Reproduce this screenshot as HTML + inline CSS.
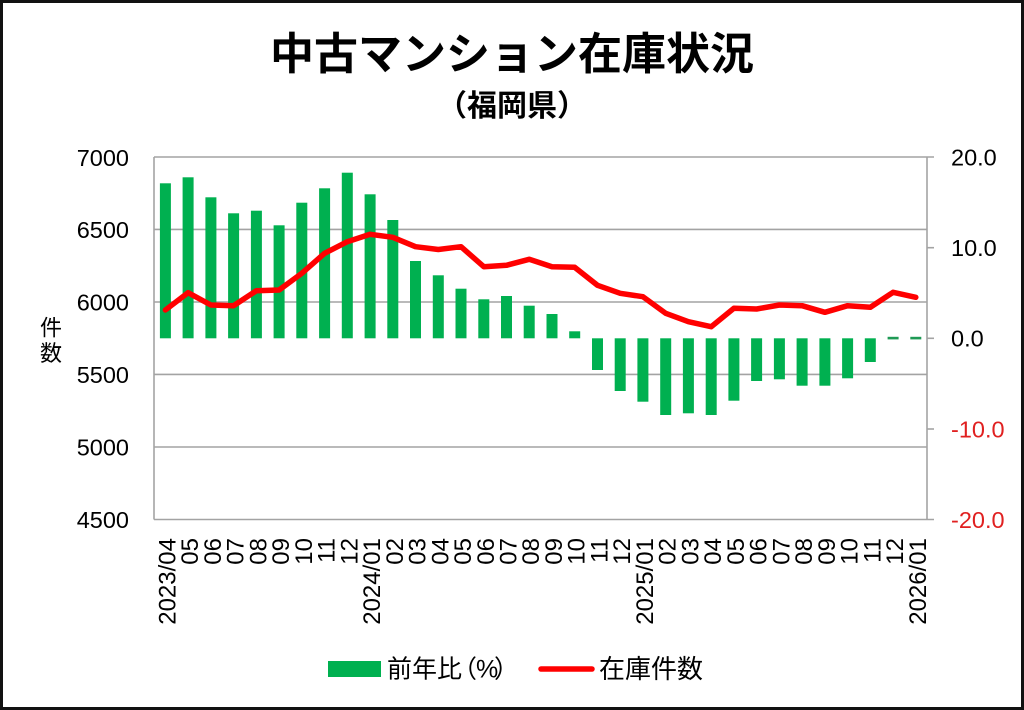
<!DOCTYPE html>
<html><head><meta charset="utf-8">
<style>
html,body{margin:0;padding:0;background:#fff;}
svg{display:block;}
text{font-family:"Liberation Sans","Noto Sans CJK JP",sans-serif;}
</style></head>
<body>
<svg width="1024" height="710" viewBox="0 0 1024 710" xmlns="http://www.w3.org/2000/svg">
<rect x="1.5" y="1.5" width="1021" height="707" fill="#fff" stroke="#111" stroke-width="3"/>
<!-- title -->
<text x="512" y="69" font-size="44" font-weight="700" text-anchor="middle" fill="#000" style='font-family:"Noto Sans CJK JP",sans-serif'>中古マンション在庫状況</text>
<text x="512" y="116" font-size="30" font-weight="700" text-anchor="middle" fill="#000" style='font-family:"Noto Sans CJK JP",sans-serif'>（福岡県）</text>

<!-- gridlines -->
<g stroke="#a3a3a3" stroke-width="1.6" fill="none">
<line x1="154" y1="157" x2="934" y2="157"/>
<line x1="154" y1="229.4" x2="927" y2="229.4"/>
<line x1="154" y1="302" x2="927" y2="302"/>
<line x1="154" y1="374.4" x2="927" y2="374.4"/>
<line x1="154" y1="447" x2="927" y2="447"/>
<line x1="154" y1="519.5" x2="934" y2="519.5"/>
<line x1="154" y1="157" x2="154" y2="519.5"/>
<line x1="927" y1="157" x2="927" y2="519.5"/>
<line x1="927" y1="247.7" x2="934" y2="247.7"/>
<line x1="927" y1="338.3" x2="934" y2="338.3"/>
<line x1="927" y1="429" x2="934" y2="429"/>
</g>

<!-- bars -->
<g fill="#00b050">
<rect x="159.9" y="183.3" width="11" height="155"/>
<rect x="182.6" y="177.3" width="11" height="161"/>
<rect x="205.4" y="197.3" width="11" height="141"/>
<rect x="228.1" y="213.3" width="11" height="125"/>
<rect x="250.9" y="210.7" width="11" height="127.6"/>
<rect x="273.6" y="225.3" width="11" height="113"/>
<rect x="296.3" y="202.7" width="11" height="135.6"/>
<rect x="319.1" y="188.3" width="11" height="150"/>
<rect x="341.8" y="172.7" width="11" height="165.6"/>
<rect x="364.6" y="194.3" width="11" height="144"/>
<rect x="387.3" y="220" width="11" height="118.3"/>
<rect x="410.0" y="261" width="11" height="77.3"/>
<rect x="432.8" y="275.3" width="11" height="63"/>
<rect x="455.5" y="288.7" width="11" height="49.6"/>
<rect x="478.3" y="299.3" width="11" height="39"/>
<rect x="501.0" y="296" width="11" height="42.3"/>
<rect x="523.7" y="305.7" width="11" height="32.6"/>
<rect x="546.5" y="314" width="11" height="24.3"/>
<rect x="569.2" y="331.3" width="11" height="7"/>
<rect x="592.0" y="338.3" width="11" height="31.7"/>
<rect x="614.7" y="338.3" width="11" height="52.7"/>
<rect x="637.4" y="338.3" width="11" height="63.4"/>
<rect x="660.2" y="338.3" width="11" height="76.7"/>
<rect x="682.9" y="338.3" width="11" height="75"/>
<rect x="705.7" y="338.3" width="11" height="76.7"/>
<rect x="728.4" y="338.3" width="11" height="62.4"/>
<rect x="751.1" y="338.3" width="11" height="42.7"/>
<rect x="773.9" y="338.3" width="11" height="41"/>
<rect x="796.6" y="338.3" width="11" height="47.4"/>
<rect x="819.4" y="338.3" width="11" height="47.4"/>
<rect x="842.1" y="338.3" width="11" height="40"/>
<rect x="864.8" y="338.3" width="11" height="23.7"/>
</g>
<g fill="#1f9a55">
<rect x="887.6" y="336.8" width="11" height="2.6"/>
<rect x="910.3" y="336.8" width="11" height="2.6"/>
</g>

<!-- line -->
<polyline fill="none" stroke="#ff0000" stroke-width="5.5" stroke-linejoin="round" stroke-linecap="round"
points="165.4,310 188.1,292.7 210.9,305 233.6,305.7 256.4,290.7 279.1,290 301.8,273.3 324.6,253.3 347.3,241.7 370.1,234.3 392.8,237.3 415.5,246.7 438.3,249.5 461.0,246.7 483.8,266.7 506.5,265.3 529.2,259.3 552.0,266.7 574.7,267.3 597.5,285.3 620.2,293.3 642.9,296.7 665.7,313.3 688.4,321.7 711.2,326.7 733.9,308.3 756.6,309 779.4,305 802.1,305.7 824.9,312.3 847.6,305.7 870.3,307.3 893.1,292.3 915.8,297.3"/>

<!-- left axis labels -->
<g font-size="23.5" fill="#000" text-anchor="end">
<text x="129" y="166">7000</text>
<text x="129" y="238">6500</text>
<text x="129" y="310.5">6000</text>
<text x="129" y="383">5500</text>
<text x="129" y="455.5">5000</text>
<text x="129" y="528">4500</text>
</g>
<!-- right axis labels -->
<g font-size="23.5" text-anchor="start">
<text x="951" y="165.5" fill="#000">20.0</text>
<text x="951" y="256" fill="#000">10.0</text>
<text x="951" y="346.5" fill="#000">0.0</text>
<text x="951" y="437.5" fill="#e02020">-10.0</text>
<text x="951" y="528" fill="#e02020">-20.0</text>
</g>
<!-- y axis title -->
<g font-size="22" text-anchor="middle" fill="#000">
<text x="51" y="335.5">件</text>
<text x="51" y="361">数</text>
</g>

<!-- x labels -->
<g font-size="24" fill="#000" text-anchor="end">
<text transform="translate(175.4,538) rotate(-90)">2023/04</text>
<text transform="translate(198.1,538) rotate(-90)">05</text>
<text transform="translate(220.9,538) rotate(-90)">06</text>
<text transform="translate(243.6,538) rotate(-90)">07</text>
<text transform="translate(266.4,538) rotate(-90)">08</text>
<text transform="translate(289.1,538) rotate(-90)">09</text>
<text transform="translate(311.8,538) rotate(-90)">10</text>
<text transform="translate(334.6,538) rotate(-90)">11</text>
<text transform="translate(357.3,538) rotate(-90)">12</text>
<text transform="translate(380.1,538) rotate(-90)">2024/01</text>
<text transform="translate(402.8,538) rotate(-90)">02</text>
<text transform="translate(425.5,538) rotate(-90)">03</text>
<text transform="translate(448.3,538) rotate(-90)">04</text>
<text transform="translate(471.0,538) rotate(-90)">05</text>
<text transform="translate(493.8,538) rotate(-90)">06</text>
<text transform="translate(516.5,538) rotate(-90)">07</text>
<text transform="translate(539.2,538) rotate(-90)">08</text>
<text transform="translate(562.0,538) rotate(-90)">09</text>
<text transform="translate(584.7,538) rotate(-90)">10</text>
<text transform="translate(607.5,538) rotate(-90)">11</text>
<text transform="translate(630.2,538) rotate(-90)">12</text>
<text transform="translate(652.9,538) rotate(-90)">2025/01</text>
<text transform="translate(675.7,538) rotate(-90)">02</text>
<text transform="translate(698.4,538) rotate(-90)">03</text>
<text transform="translate(721.2,538) rotate(-90)">04</text>
<text transform="translate(743.9,538) rotate(-90)">05</text>
<text transform="translate(766.6,538) rotate(-90)">06</text>
<text transform="translate(789.4,538) rotate(-90)">07</text>
<text transform="translate(812.1,538) rotate(-90)">08</text>
<text transform="translate(834.9,538) rotate(-90)">09</text>
<text transform="translate(857.6,538) rotate(-90)">10</text>
<text transform="translate(880.3,538) rotate(-90)">11</text>
<text transform="translate(903.1,538) rotate(-90)">12</text>
<text transform="translate(925.8,538) rotate(-90)">2026/01</text>
</g>

<!-- legend -->
<rect x="328" y="661" width="53" height="16" fill="#00b050"/>
<text y="677.5" font-size="25" fill="#000"><tspan x="387">前年比</tspan><tspan x="452">（</tspan><tspan x="476" style='font-family:"Liberation Sans",sans-serif'>%</tspan><tspan x="494">）</tspan></text>
<line x1="541" y1="669" x2="592" y2="669" stroke="#ff0000" stroke-width="5.5" stroke-linecap="round"/>
<text x="599" y="678" font-size="26" fill="#000">在庫件数</text>
</svg>
</body></html>
